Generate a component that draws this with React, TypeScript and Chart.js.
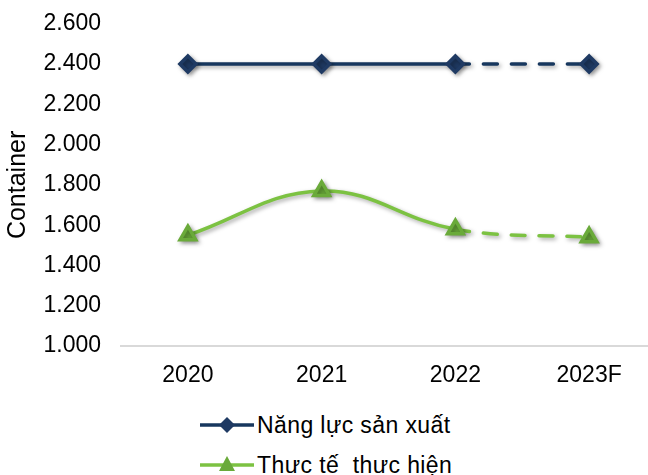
import React, { useEffect, useRef } from "react";
import { Chart, registerables } from "chart.js";

Chart.register(...registerables);

const categories = ["2020", "2021", "2022", "2023F"];
const capacityValues = [2400, 2400, 2400, 2400];
const actualValues = [1550, 1770, 1580, 1540];
const seriesNames = ["Năng lực sản xuất", "Thực tế  thực hiện"];
const yMin = 1000;
const yMax = 2600;
const yStep = 200;
const yTitle = "Container";

const NAVY = "#17375e";
const NAVY_PT = "#1f3a63";
const GREEN = "#7cc242";
const GREEN_PT = "#6aaa3a";
const FONT = "'Liberation Sans', Arial, sans-serif";

const fmt = (v: number) => {
  const th = Math.floor(v / 1000);
  const rest = String(v % 1000).padStart(3, "0");
  return `${th}.${rest}`;
};

const shadowPlugin = {
  id: "shadowPlugin",
  beforeDatasetsDraw(chart: any) {
    const ctx = chart.ctx;
    ctx.save();
    ctx.shadowColor = "rgba(0,0,0,0.35)";
    ctx.shadowBlur = 4;
    ctx.shadowOffsetX = 2;
    ctx.shadowOffsetY = 2;
  },
  afterDatasetsDraw(chart: any) {
    chart.ctx.restore();
  },
};

const dashLast = (ctx: any) => (ctx.p1DataIndex === 3 ? [14, 14] : undefined);

export default function App() {
  const ref = useRef<HTMLCanvasElement | null>(null);
  useEffect(() => {
    if (!ref.current) return;
    const chart = new Chart(ref.current, {
      type: "line",
      data: {
        labels: categories,
        datasets: [
          {
            label: seriesNames[0],
            data: capacityValues,
            borderColor: NAVY,
            backgroundColor: NAVY_PT,
            borderWidth: 3.5,
            borderCapStyle: "round",
            pointStyle: "rectRot",
            pointRadius: 8,
            pointBackgroundColor: NAVY_PT,
            pointBorderColor: NAVY_PT,
            tension: 0,
            segment: { borderDash: dashLast },
          },
          {
            label: seriesNames[1],
            data: actualValues,
            borderColor: GREEN,
            backgroundColor: GREEN_PT,
            borderWidth: 3.5,
            borderCapStyle: "round",
            pointStyle: "triangle",
            pointRadius: 9,
            pointBackgroundColor: GREEN_PT,
            pointBorderColor: GREEN_PT,
            tension: 0.4,
            segment: { borderDash: dashLast },
          },
        ],
      },
      options: {
        responsive: false,
        animation: false,
        devicePixelRatio: 1,
        layout: { autoPadding: false, padding: { top: 0, right: 4, left: 0, bottom: 0 } },
        plugins: { legend: { display: false }, tooltip: { enabled: false } },
        scales: {
          x: {
            type: "category",
            offset: true,
            grid: { display: false, drawTicks: false },
            border: { display: true, color: "#d9d9d9", width: 2 },
            ticks: { color: "#000", font: { family: FONT, size: 23 }, padding: 16 },
            afterFit: (s: any) => {
              s.height = 49;
            },
          },
          y: {
            min: yMin,
            max: yMax,
            grid: { display: false, drawTicks: false },
            border: { display: false },
            ticks: {
              stepSize: yStep,
              color: "#000",
              padding: 20,
              font: { family: FONT, size: 23 },
              callback: (v: any) => fmt(Number(v)),
            },
            title: {
              display: true,
              text: yTitle,
              color: "#000",
              font: { family: FONT, size: 25 },
              padding: { top: 3, bottom: 0 },
            },
            afterFit: (s: any) => {
              s.width = 121;
            },
          },
        },
      },
      plugins: [shadowPlugin],
    });
    return () => chart.destroy();
  }, []);

  const legendItem = (i: number, top: number) => (
    <div
      key={i}
      style={{ position: "absolute", left: 198, top, height: 30, display: "flex", alignItems: "center" }}
    >
      <svg width={58} height={30} style={{ display: "block" }}>
        <line x1={2} y1={15} x2={56} y2={15} stroke={i === 0 ? NAVY : GREEN} strokeWidth={3.5} />
        {i === 0 ? (
          <polygon points="29,7 37,15 29,23 21,15" fill={NAVY_PT} />
        ) : (
          <polygon points="29,6 37,21 21,21" fill={GREEN_PT} />
        )}
      </svg>
      <span style={{ fontFamily: FONT, fontSize: 23, color: "#000", whiteSpace: "pre", marginLeft: 1, letterSpacing: 0.4 }}>
        {seriesNames[i]}
      </span>
    </div>
  );

  return (
    <div
      style={{
        position: "fixed",
        left: 0,
        top: 0,
        width: 648,
        height: 475,
        overflow: "hidden",
        background: "#fff",
      }}
    >
      <canvas
        ref={ref}
        width={660}
        height={405}
        style={{ display: "block", position: "absolute", left: 0, top: -10 }}
      />
      {legendItem(0, 410)}
      {legendItem(1, 450)}
    </div>
  );
}
